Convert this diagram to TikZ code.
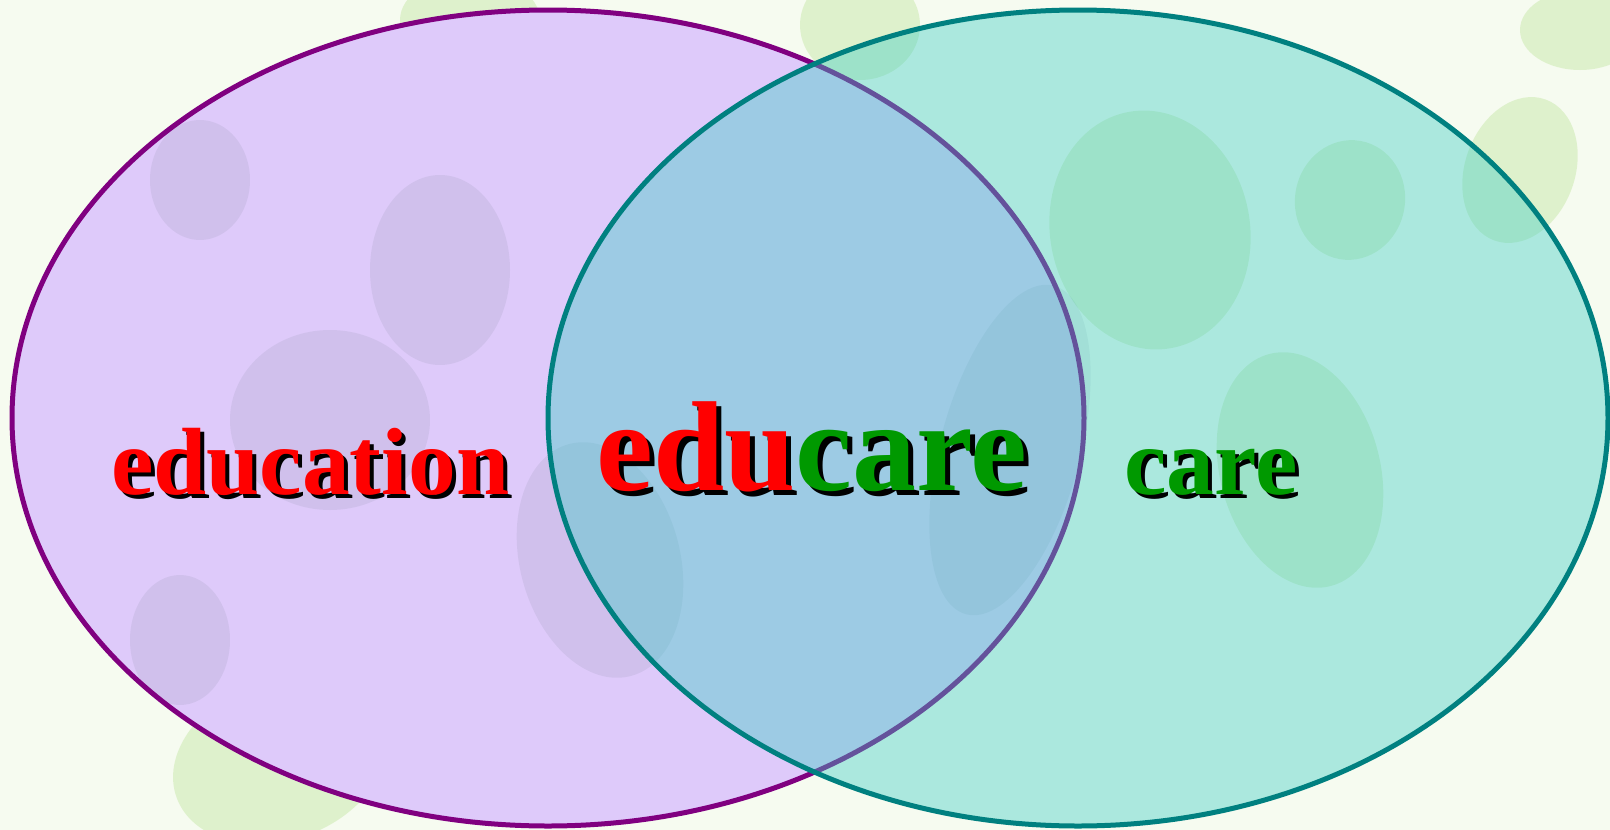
\documentclass[tikz,border=0pt]{standalone}
\usepackage{fontspec}
\setmainfont{Liberation Serif}
\definecolor{bgcol}{RGB}{246,251,240}
\definecolor{leafg}{RGB}{200,232,170}
\definecolor{leafd}{RGB}{90,110,120}
\definecolor{lav}{RGB}{222,202,250}
\definecolor{aquaf}{RGB}{60,205,197}
\definecolor{purp}{RGB}{128,0,128}
\definecolor{tealc}{RGB}{0,128,128}
\definecolor{wred}{RGB}{255,0,0}
\definecolor{wgreen}{RGB}{0,153,0}
% text with a black drop shadow, in one box
\newcommand{\shadowed}[3]{\rlap{\kern#1\raisebox{-#1}{\color{black}#2}}#3}
\tikzset{
  ring/.style={line width=5pt},
  word/.style={inner sep=0pt, anchor=base west},
  leaf/.style={fill=leafg, opacity=0.5},
  darkleaf/.style={fill=leafd, opacity=0.10}
}
\begin{document}
\begin{tikzpicture}[x=1pt,y=-1pt]
\useasboundingbox (0,0) rectangle (1610,830);
\fill[bgcol] (0,0) rectangle (1610,830);
% background leaves
\fill[leaf] (470,20) ellipse [x radius=70, y radius=45];
\fill[leaf] (860,25) ellipse [x radius=60, y radius=55];
\fill[leaf, rotate around={-20:(1520,170)}] (1520,170) ellipse [x radius=55, y radius=75];
\fill[leaf, rotate around={20:(280,760)}] (280,760) ellipse [x radius=110, y radius=80];
\fill[leaf] (1580,30) ellipse [x radius=60, y radius=40];
\fill[leaf, rotate around={10:(1150,230)}] (1150,230) ellipse [x radius=100, y radius=120];
\fill[leaf, rotate around={-10:(1350,200)}] (1350,200) ellipse [x radius=55, y radius=60];
\fill[leaf, rotate around={15:(1300,470)}] (1300,470) ellipse [x radius=80, y radius=120];
% left ellipse
\fill[lav] (548,418) ellipse [x radius=536, y radius=408];
\fill[darkleaf] (200,180) ellipse [x radius=50, y radius=60];
\fill[darkleaf] (440,270) ellipse [x radius=70, y radius=95];
\fill[darkleaf] (330,420) ellipse [x radius=100, y radius=90];
\fill[darkleaf] (180,640) ellipse [x radius=50, y radius=65];
\fill[darkleaf, rotate around={15:(600,560)}] (600,560) ellipse [x radius=80, y radius=120];
\fill[darkleaf, rotate around={-15:(1010,450)}] (1010,450) ellipse [x radius=70, y radius=170];
\draw[purp, ring] (548,418) ellipse [x radius=536, y radius=408];
% right ellipse
\fill[aquaf, opacity=0.4] (1078,418) ellipse [x radius=530, y radius=408];
\draw[tealc, ring] (1078,418) ellipse [x radius=530, y radius=408];
% words
\node[word, font=\bfseries\fontsize{95.5}{96}\selectfont] (edu) at (111,494)
  {\shadowed{4pt}{education}{\textcolor{wred}{education}}};
\node[word, font=\bfseries\fontsize{128}{128}\selectfont] (mix) at (596,490)
  {\shadowed{5pt}{educare}{\textcolor{wred}{edu}\textcolor{wgreen}{care}}};
\node[word, font=\bfseries\fontsize{95.5}{96}\selectfont] (care) at (1124,494)
  {\shadowed{4pt}{care}{\textcolor{wgreen}{care}}};
\end{tikzpicture}
\end{document}
